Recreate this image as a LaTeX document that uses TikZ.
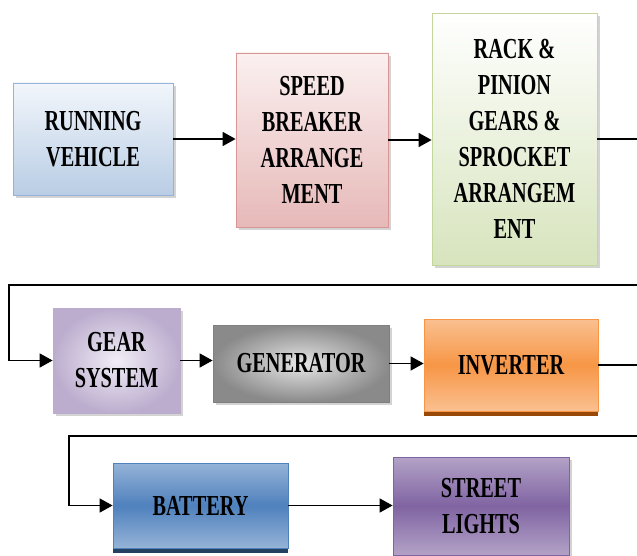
\documentclass[tikz,border=0pt]{standalone}
\usepackage{fontspec}
\newfontfamily\blockfont{Liberation Serif}[FakeStretch=0.7]
\usetikzlibrary{arrows.meta,shadows}

\definecolor{vehtop}{HTML}{F2F6FB}
\definecolor{vehbot}{HTML}{B9CDE5}
\definecolor{vehline}{HTML}{95B3D7}
\definecolor{brktop}{HTML}{FBF0F0}
\definecolor{brkbot}{HTML}{E6B9B8}
\definecolor{brkline}{HTML}{D99694}
\definecolor{racktop}{HTML}{FFFFFF}
\definecolor{rackbot}{HTML}{D7E4BD}
\definecolor{rackline}{HTML}{C3D69B}
\definecolor{gearin}{HTML}{F1EDF6}
\definecolor{gearout}{HTML}{BCADCE}
\definecolor{geninn}{HTML}{E6E6E6}
\definecolor{genout}{HTML}{8A8A8A}
\definecolor{invlight}{HTML}{FAC090}
\definecolor{invmid}{HTML}{F79646}
\definecolor{invdark}{HTML}{984807}
\definecolor{batlight}{HTML}{95B3D7}
\definecolor{batmid}{HTML}{4F81BD}
\definecolor{batdark}{HTML}{254061}
\definecolor{strlight}{HTML}{B3A2C7}
\definecolor{strmid}{HTML}{8064A2}

\tikzset{
  block/.style={draw, line width=0.8pt, align=center, inner sep=2pt,
    font={\blockfont\bfseries\fontsize{29}{36}\selectfont},
    drop shadow={shadow xshift=3pt, shadow yshift=-3pt, opacity=0.35}},
  flatblock/.style={draw, line width=0.8pt, align=center, inner sep=2pt,
    font={\blockfont\bfseries\fontsize{29}{36}\selectfont}},
  flow/.style={line width=1.5pt, -{Triangle[length=13pt,width=14pt]}},
}

\begin{document}
\begin{tikzpicture}[x=1pt,y=-1pt]
\useasboundingbox (0,0) rectangle (637,556);
\clip (0,0) rectangle (637,556);

% first row
\node[block, draw=vehline, top color=vehtop, bottom color=vehbot,
  minimum width=160pt, minimum height=112pt] (vehicle) at (93,139) {RUNNING\\VEHICLE};
\node[block, draw=brkline, top color=brktop, bottom color=brkbot,
  minimum width=152pt, minimum height=174pt] (breaker) at (312,140) {SPEED\\BREAKER\\ARRANGE\\MENT};
\node[block, draw=rackline, top color=racktop, bottom color=rackbot,
  minimum width=165pt, minimum height=252pt] (rack) at (514.5,139) {RACK \&\\PINION\\GEARS \&\\SPROCKET\\ARRANGEM\\ENT};

% second row
\node[block, draw=gearout, shading=radial, inner color=gearin, outer color=gearout,
  minimum width=127pt, minimum height=105pt] (gear) at (116.5,360.5) {GEAR\\SYSTEM};
\node[block, draw=gray, shading=radial, inner color=geninn, outer color=genout,
  minimum width=176pt, minimum height=77pt] (generator) at (301,363.5) {GENERATOR};
\node[flatblock, draw=invmid, top color=invlight, bottom color=invlight, middle color=invmid,
  drop shadow={shadow xshift=0pt, shadow yshift=-5pt, fill=invdark, opacity=1},
  minimum width=174pt, minimum height=92pt] (inverter) at (511,365) {INVERTER};

% third row
\node[flatblock, draw=batmid, top color=batlight, bottom color=batlight, middle color=batmid,
  drop shadow={shadow xshift=0pt, shadow yshift=-5pt, fill=batdark, opacity=1},
  minimum width=175pt, minimum height=85pt] (battery) at (200.5,505.5) {BATTERY};
\node[block, draw=strmid, top color=strlight, bottom color=strlight, middle color=strmid,
  minimum width=176pt, minimum height=98pt] (street) at (481,506) {STREET\\LIGHTS};

% return lines
\coordinate (backA) at (9,285);
\coordinate (backB) at (69,436);

% connectors
\draw[flow] (vehicle.east) -- (vehicle.east -| breaker.west);
\draw[flow] (breaker.east) -- (breaker.east -| rack.west);
\draw[flow] (rack.east) -| (650,285) -- (backA) |- (gear.west);
\draw[flow] (gear.east) -- (gear.east -| generator.west);
\draw[flow] (generator.east) -- (generator.east -| inverter.west);
\draw[flow] (inverter.east) -| (650,436) -- (backB) |- (battery.west);
\draw[flow] (battery.east) -- (battery.east -| street.west);
\end{tikzpicture}
\end{document}
